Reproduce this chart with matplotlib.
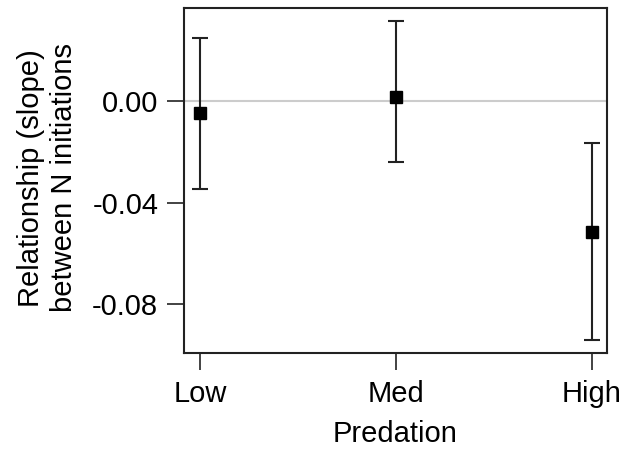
import matplotlib
matplotlib.use("Agg")
import matplotlib.pyplot as plt

categories = ["Low", "Med", "High"]
slopes = [-0.0047, 0.0016, -0.0515]
upper = [0.0251, 0.0317, -0.0167]
lower = [-0.0346, -0.0240, -0.0943]
yticks = [0.00, -0.04, -0.08]
ytick_labels = ["0.00", "-0.04", "-0.08"]

plt.rcParams['font.family'] = ['Liberation Sans', 'DejaVu Sans']

fig = plt.figure(figsize=(6.25, 4.49), dpi=100)
ax = fig.add_axes([0.2944, 0.2145, 0.9712 - 0.2944, 0.9822 - 0.2145])

x = list(range(len(categories)))
ax.axhline(0, color="#cccccc", lw=1.5, zorder=1)
yerr = [[s - l for s, l in zip(slopes, lower)], [u - s for s, u in zip(slopes, upper)]]
ax.errorbar(x, slopes, yerr=yerr, fmt="s", color="black", ecolor="#222222",
            markersize=9, elinewidth=1.5, capsize=6, capthick=1.5, zorder=3)

ax.set_xlim(-0.082, 2.077)
ax.set_ylim(-0.0993, 0.0368)
ax.set_xticks(x)
ax.set_xticklabels(categories)
ax.set_yticks(yticks)
ax.set_yticklabels(ytick_labels)
ax.tick_params(axis="both", direction="out", length=12.5, width=1.2, labelsize=21, color="#222222")
ax.tick_params(axis="x", pad=7)
ax.tick_params(axis="y", pad=6)
for s in ax.spines.values():
    s.set_linewidth(1.5)
    s.set_color("#222222")

ax.set_xlabel("Predation", fontsize=21, labelpad=9)
ax.set_ylabel("Relationship (slope)\nbetween N initiations", fontsize=21, linespacing=1.22)
ax.yaxis.set_label_coords(-0.251, 0.507)

fig.savefig("out.png", dpi=100)
